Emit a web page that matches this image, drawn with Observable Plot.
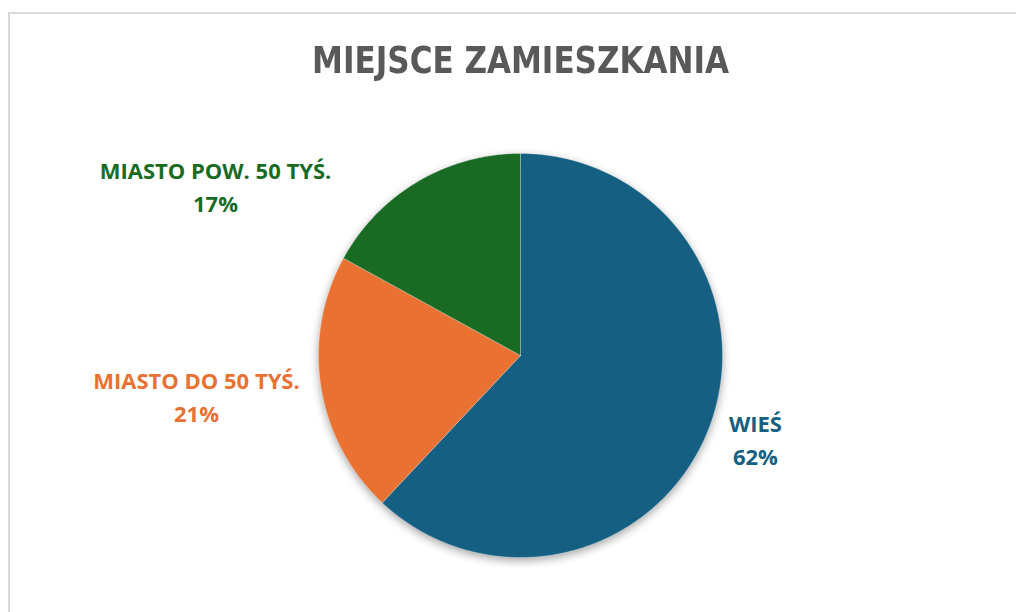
<!DOCTYPE html>
<html><head><meta charset="utf-8">
<script src="https://cdn.jsdelivr.net/npm/d3@7"></script>
<script src="https://cdn.jsdelivr.net/npm/@observablehq/plot@0.6"></script>
<style>
body{margin:0;background:#fff;width:1016px;height:612px;overflow:hidden;position:relative;}
#frame{position:absolute;left:8px;top:12px;width:2000px;height:2000px;border:2px solid #d9d9d9;}
#title{position:absolute;left:0;top:42px;width:1042px;text-align:center;color:#595959;white-space:nowrap;}
#title span{display:inline-block;font:bold 37px/37px "DejaVu Sans Condensed","DejaVu Sans",sans-serif;font-stretch:condensed;transform-origin:50% 50%;}
#chart{position:absolute;left:0;top:0;}
</style></head><body>
<div id="frame"></div>
<div id="chart"></div>
<div id="title"><span>MIEJSCE ZAMIESZKANIA</span></div>
<script>
// ---- data ----
const categories = ["WIEŚ", "MIASTO DO 50 TYŚ.", "MIASTO POW. 50 TYŚ."];
const shares = [62, 21, 17];
const colors = ["#156082", "#E97132", "#196B24"];

// ---- layout (label anchor positions in unit-circle coordinates) ----
const LAYOUT = {
  labelAt: [[1.163, -0.408], [-1.604, -0.195], [-1.51, 0.842]],
  titleWidth: 417
};

const arcs = d3.pie().sort(null).value(d => d)(shares);
const pts = [];
arcs.forEach((a, i) => {
  const name = categories[i];
  pts.push({name, x: 0, y: 0});
  const n = Math.max(2, Math.ceil((a.endAngle - a.startAngle) / (Math.PI / 360)));
  for (let k = 0; k <= n; k++) {
    const t = a.startAngle + (a.endAngle - a.startAngle) * k / n;
    pts.push({name, x: Math.sin(t), y: Math.cos(t)});
  }
  pts.push({name, x: 0, y: 0});
});

const labels = categories.map((c, i) => ({
  name: c,
  text: c + "\n" + shares[i] + "%",
  x: LAYOUT.labelAt[i][0],
  y: LAYOUT.labelAt[i][1]
}));

const chart = Plot.plot({
  width: 1016, height: 612,
  margin: 0,
  x: {domain: [-1, 1], range: [318, 722], axis: null},
  y: {domain: [-1, 1], range: [557, 153], axis: null},
  color: {domain: categories, range: colors},
  style: {background: "transparent", overflow: "visible"},
  marks: [
    Plot.line(pts, {x: "x", y: "y", z: "name", fill: "name", stroke: "#ffffff", strokeOpacity: 0.6, strokeWidth: 0.5, curve: "linear-closed"}),
    Plot.text(labels, {x: "x", y: "y", text: "text", fill: "name", fontSize: 22, fontWeight: "bold",
      lineHeight: 1.5, fontFamily: "'Open Sans', sans-serif"})
  ]
});
document.getElementById("chart").appendChild(chart);
const lineG = chart.querySelector('g[aria-label="line"]');
if (lineG) lineG.style.filter = "drop-shadow(0px 3px 4px rgba(0,0,0,0.35))";
const sp = document.querySelector("#title span");
const w = sp.getBoundingClientRect().width;
if (w > 0) sp.style.transform = "scaleX(" + (LAYOUT.titleWidth / w) + ")";
</script>
</body></html>
